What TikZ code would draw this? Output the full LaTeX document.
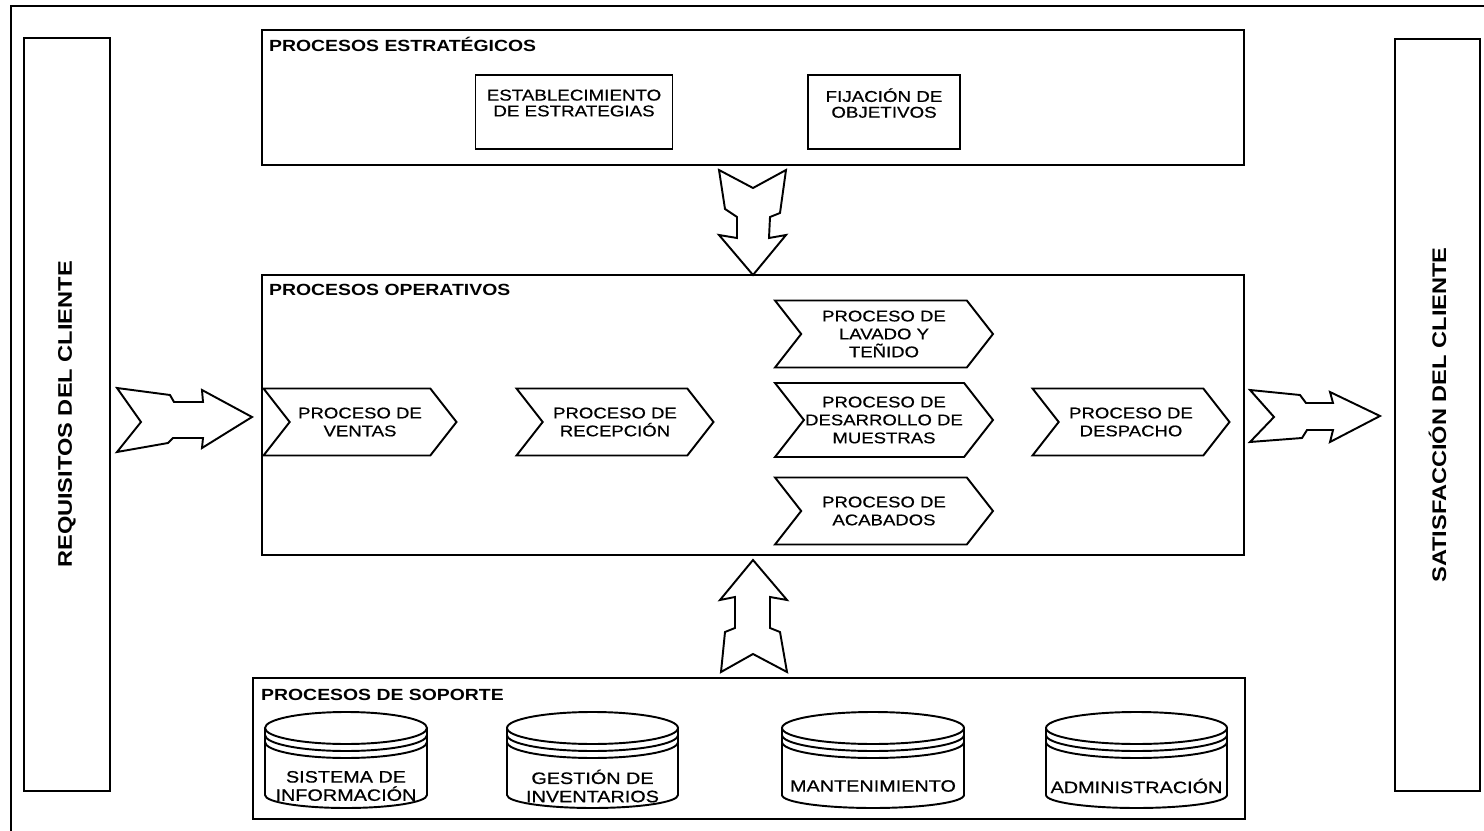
\documentclass[tikz,border=0pt]{standalone}
\usepackage{fontspec}
\setmainfont{Liberation Sans}[FakeStretch=1.2]
\newfontfamily\scanfont{Liberation Sans}[FakeStretch=1.2, FakeBold=0.6]
\usetikzlibrary{shapes.symbols,fit}

\tikzset{
    panel/.style={draw, line width=1.3pt, inner sep=0pt},
    heading/.style={font=\fontsize{9.2}{11}\selectfont\bfseries, inner sep=0pt, anchor=base west},
    sidelabel/.style={font=\fontsize{11.2}{13}\selectfont\bfseries, rotate=90},
    taskbox/.style={draw, line width=1.1pt, align=center, inner sep=0pt, minimum height=1.48cm,
        text depth=0.36cm, font=\scanfont\fontsize{8.9}{9}\selectfont},
    stage/.style={signal, signal from=west, signal to=east, signal pointer angle=104, draw, line width=1.1pt,
        align=center, inner sep=0pt, minimum height=1.34cm, font=\scanfont\fontsize{8.8}{10.2}\selectfont},
    flow/.style={draw, line width=1.1pt, line join=miter, fill=white},
    disk/.style={draw, line width=1.1pt},
    disklabel/.style={align=center, inner sep=0pt, font=\scanfont\fontsize{9.4}{10.4}\selectfont}
}

% disco apilado: nombre, x izquierda, x derecha, texto
\newcommand{\diskstack}[4]{%
    \pgfmathsetmacro{\dcx}{(#2+#3)/2}
    \pgfmathsetmacro{\drx}{(#3-#2)/2}
    \draw[disk] (\dcx,728) ellipse[x radius=\drx, y radius=16];
    \draw[disk] (#2,735) arc[start angle=180, end angle=0, x radius=\drx, y radius=16];
    \draw[disk] (#2,742) arc[start angle=180, end angle=0, x radius=\drx, y radius=16];
    \draw[disk] (#2,728) -- (#2,795) arc[start angle=180, end angle=0, x radius=\drx, y radius=13] -- (#3,728);
    \node[disklabel] (#1) at (\dcx,786) {#4};
}

\begin{document}
\begin{tikzpicture}[x=0.02cm, y=-0.02cm]
    \useasboundingbox (0,0) rectangle (1484,831);
    \clip (0,0) rectangle (1484,831);

    % Marco exterior
    \draw[line width=1.3pt] (1490,6) -- (11,6) -- (11,840);

    % Cliente
    \node[panel, fit={(24,38) (110,791)}] (reqbox) {};
    \node[sidelabel] (req) at (reqbox.center) {REQUISITOS DEL CLIENTE};
    \node[panel, fit={(1395,39) (1480,791)}] (satbox) {};
    \node[sidelabel] (sat) at (satbox.center) {SATISFACCIÓN DEL CLIENTE};

    % Procesos estrategicos
    \node[panel, fit={(262,30) (1244,165)}] (estr) {};
    \node[heading] (estrtitle) at ([shift={(8,23)}]estr.north west) {PROCESOS ESTRATÉGICOS};
    \node[taskbox, minimum width=3.94cm] (estrat) at (574,112) {ESTABLECIMIENTO\\DE ESTRATEGIAS};
    \node[taskbox, minimum width=3.04cm] (objet) at (884,112) {FIJACIÓN DE\\OBJETIVOS};

    % Procesos operativos
    \node[panel, fit={(262,275) (1244,555)}] (oper) {};
    \node[heading] (opertitle) at ([shift={(8,22)}]oper.north west) {PROCESOS OPERATIVOS};
    \node[stage, minimum width=3.86cm] (ventas) at (360,422) {PROCESO DE\\VENTAS};
    \node[stage, minimum width=3.94cm] (recep) at (615,422) {PROCESO DE\\RECEPCIÓN};
    \node[stage, minimum width=4.36cm] (lavado) at (884,334) {PROCESO DE\\LAVADO Y\\TEÑIDO};
    \node[stage, minimum width=4.36cm, minimum height=1.48cm] (muestras) at (884,420) {PROCESO DE\\DESARROLLO DE\\MUESTRAS};
    \node[stage, minimum width=4.36cm] (acabados) at (884,511) {PROCESO DE\\ACABADOS};
    \node[stage, minimum width=3.94cm] (despacho) at (1131,422) {PROCESO DE\\DESPACHO};

    % Procesos de soporte
    \node[panel, fit={(253,678) (1245,819)}] (sop) {};
    \node[heading] (soptitle) at ([shift={(9,24)}]sop.north west) {PROCESOS DE SOPORTE};
    \diskstack{info}{265}{427}{SISTEMA DE\\INFORMACIÓN}
    \diskstack{invent}{507}{678}{GESTIÓN DE\\INVENTARIOS}
    \diskstack{mant}{782}{964}{MANTENIMIENTO}
    \diskstack{admin}{1046}{1227}{ADMINISTRACIÓN}

    % Flechas de bloque
    \draw[flow] (117,388) -- (170,395) -- (174,402) -- (203,402) -- (202,390) -- (252,417)
        -- (202,448) -- (203,438) -- (173,438) -- (168,443) -- (117,452) -- (141,422) -- cycle;
    \draw[flow] (1250,390) -- (1300,395) -- (1306,403) -- (1333,403) -- (1330,392) -- (1380,416)
        -- (1330,442) -- (1333,430) -- (1307,430) -- (1302,438) -- (1250,442) -- (1274,417) -- cycle;
    \draw[flow] (719,170) -- (753,188) -- (786,170) -- (780,213) -- (770,217) -- (769,238)
        -- (786,235) -- (753,275) -- (719,235) -- (737,238) -- (737,217) -- (725,209) -- cycle;
    \draw[flow] (753,560) -- (787,600) -- (770,597) -- (770,628) -- (780,632) -- (787,672)
        -- (753,654) -- (721,672) -- (725,632) -- (735,628) -- (735,597) -- (720,600) -- cycle;
\end{tikzpicture}
\end{document}
